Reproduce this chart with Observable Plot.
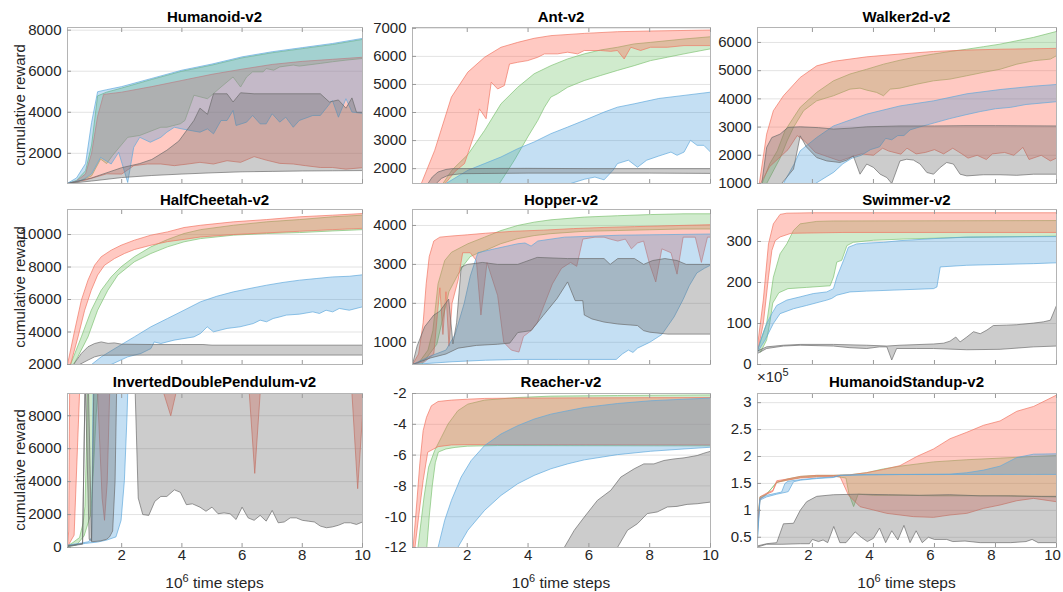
<!DOCTYPE html>
<html><head><meta charset="utf-8">
<script src="https://cdn.jsdelivr.net/npm/d3@7"></script>
<script src="https://cdn.jsdelivr.net/npm/@observablehq/plot@0.6"></script>
<style>
body{margin:0;background:#fff;}
#root{position:relative;width:1063px;height:592px;font-family:"Liberation Sans",Arial,sans-serif;color:#262626;overflow:hidden;background:#fff}
.title{position:absolute;font-weight:bold;font-size:15px;color:#000;white-space:nowrap;transform:translate(-50%,-50%)}
.ylab{position:absolute;font-size:15px;white-space:nowrap;transform:translate(-50%,-50%) rotate(-90deg)}
.xlab{position:absolute;font-size:15.5px;white-space:nowrap;transform:translate(-50%,-50%)}
.xlab sup,.mult sup{font-size:11px;vertical-align:6px;line-height:0}
.mult{position:absolute;font-size:15px;white-space:nowrap;transform:translate(0,-50%)}
</style></head>
<body><div id="root"></div>
<script>
// ---------- shared ticks ----------
const xTicks = [2, 4, 6, 8, 10];
const titles = ["Humanoid-v2","Ant-v2","Walker2d-v2","HalfCheetah-v2","Hopper-v2","Swimmer-v2","InvertedDoublePendulum-v2","Reacher-v2","HumanoidStandup-v2"];

// ---------- Humanoid ----------
const hum_blue_hi = [[0.2,540],[0.5,800],[0.8,1500],[1.0,3500],[1.2,5000],[1.5,5100],[2.0,5250],[3,5650],[4,6050],[5,6350],[6,6700],[7,6950],[8,7150],[9,7350],[10,7600]];
const hum_blue_lo = [[0.2,530],[0.7,700],[1.0,1000],[1.3,1800],[1.65,1480],[1.9,2050],[2.2,580],[2.4,2290],[2.6,2780],[2.95,2540],[3.3,2780],[3.5,3030],[3.75,3270],[4.0,3190],[4.6,3030],[4.85,3190],[5.05,2950],[5.3,3600],[5.5,3600],[5.7,4090],[5.8,3355],[6.15,3520],[6.35,3845],[6.6,3437],[6.8,3437],[7.0,3927],[7.25,3520],[7.45,3760],[7.7,3270],[7.9,3600],[8.35,3845],[8.6,3845],[9.0,4580],[9.2,3760],[9.45,4660],[9.65,4010],[10,3950]];
const hum_green_hi = [[0.2,530],[0.5,680],[0.8,1150],[1.0,2400],[1.2,4800],[1.5,4980],[2,5180],[3,5600],[4,6000],[5,6300],[6,6650],[7,6900],[8,7100],[9,7300],[10,7550]];
const hum_green_lo = [[0.2,520],[0.6,650],[1.0,900],[1.3,1720],[1.5,1500],[1.7,1900],[2.2,2780],[2.6,2870],[3.3,3270],[3.5,3270],[3.95,3440],[4.1,3600],[4.4,4830],[4.85,4660],[5.3,5230],[5.7,5720],[5.95,5230],[6.15,5720],[6.35,5970],[6.7,5970],[6.8,6130],[7.05,6050],[7.25,6210],[7.7,6300],[7.9,6250],[8.6,6380],[9.0,6460],[9.45,6540],[10,6620]];
const hum_red_hi = [[0.2,530],[0.5,650],[0.8,1000],[1.0,2000],[1.2,3800],[1.4,4870],[2,4980],[3,5250],[4,5550],[5,5850],[6,6100],[7,6330],[8,6480],[9,6580],[10,6680]];
const hum_red_lo = [[0.2,530],[0.8,700],[1.5,1000],[2.0,990],[2.4,1400],[2.85,1480],[3.3,1480],[3.75,1400],[4.2,1480],[4.6,1560],[5.05,1480],[5.5,1640],[5.95,1560],[6.4,1840],[6.8,1670],[7.25,1510],[7.7,1480],[8.1,1400],[8.6,1310],[9.0,1310],[9.45,1230],[10,1300]];
const hum_gray_hi = [[0.2,530],[1.0,800],[2.0,1300],[2.6,1500],[3.0,1700],[3.5,2150],[3.9,2600],[4.4,3600],[4.6,4200],[4.85,3900],[5.05,4900],[5.5,4900],[5.7,4500],[5.95,4950],[6.4,4900],[8.6,4900],[8.9,4500],[9.2,4600],[9.45,4200],[9.65,4700],[9.8,4000],[10,4000]];
const hum_gray_lo = [[0.2,530],[1,650],[2,820],[3,920],[4,990],[5,1050],[6,1100],[7,1120],[8,1140],[9,1150],[10,1160]];

// ---------- Ant ----------
const ant_blue_hi = [[1.0,1300],[1.3,1470],[2.02,1940],[2.57,2180],[3.11,2415],[3.66,2710],[4.2,2950],[4.75,3245],[5.3,3480],[5.85,3720],[6.5,4015],[6.94,4190],[7.49,4310],[8.3,4500],[9.13,4610],[10,4725]];
const ant_blue_lo = [[1.3,500],[5.4,1470],[5.85,1620],[6.2,1700],[6.5,1600],[6.8,1950],[6.94,2180],[7.3,2300],[7.6,2050],[7.9,2300],[8.3,2450],[8.7,2590],[8.9,2475],[9.13,2590],[9.34,3010],[9.56,2830],[9.78,2830],[10,2590]];
const ant_green_hi = [[0.9,1000],[1.2,1470],[1.5,1950],[2.02,2500],[2.57,3360],[3.11,4310],[3.66,4900],[4.2,5380],[4.75,5670],[5.3,5910],[5.85,6090],[6.39,6230],[6.94,6325],[7.49,6445],[8.03,6500],[9.13,6620],[10,6700]];
const ant_green_lo = [[1.5,500],[3.06,1470],[3.55,2300],[3.99,3130],[4.32,3720],[4.54,4190],[4.75,4550],[4.97,4670],[5.3,4900],[5.85,5140],[6.39,5320],[6.94,5500],[7.49,5670],[8.03,5850],[8.58,5970],[9.13,6090],[10,6270]];
const ant_red_hi = [[0.35,1000],[0.49,1470],[0.93,2650],[1.48,4550],[2.02,5440],[2.57,5970],[3.11,6325],[3.66,6500],[4.2,6645],[4.75,6740],[5.85,6820],[6.94,6880],[8.03,6905],[10,6940]];
const ant_red_lo = [[0.8,1000],[1.3,1500],[1.6,1900],[1.91,2180],[2.24,3245],[2.4,4130],[2.62,3780],[2.79,5080],[3.0,4840],[3.22,4960],[3.39,5730],[3.66,5790],[3.99,5850],[4.32,5970],[4.54,6090],[4.97,6090],[5.3,6150],[5.63,6090],[5.85,6210],[6.39,6210],[6.72,6180],[6.94,6210],[7.16,5910],[7.38,6325],[7.7,6210],[8.03,6325],[8.58,6325],[9.13,6385],[10,6385]];
const ant_gray_hi = [[0.6,1300],[0.71,1470],[0.85,1700],[1.04,1880],[1.3,1970],[1.5,2000],[4,2010],[6,2000],[8,2000],[10,2000]];
const ant_gray_lo = [[0.85,1300],[0.98,1470],[1.15,1650],[1.37,1760],[1.8,1820],[4,1840],[6,1840],[8,1840],[10,1830]];

// ---------- Walker2d ----------
const walk_blue_hi = [[1.05,1000],[1.4,1690],[1.6,2160],[2.14,2630],[2.69,3040],[3.78,3460],[4.87,3750],[5.97,3930],[7.06,4180],[8.15,4330],[9.25,4450],[10,4510]];
const walk_blue_lo = [[1.5,800],[2.1,1000],[2.7,1400],[3.0,1700],[3.3,1900],[3.6,2000],[3.9,2200],[4.2,2300],[4.4,2600],[4.6,2550],[4.8,2700],[5.0,2700],[5.2,2900],[5.5,3000],[6.0,3150],[6.5,3300],[7.0,3430],[7.5,3550],[8.0,3650],[8.5,3700],[9,3800],[10,3900]];
const walk_green_hi = [[0.35,1000],[0.6,1700],[0.85,2160],[1.1,2870],[1.6,3700],[2.14,4230],[2.69,4640],[3.23,4880],[3.78,5050],[4.33,5230],[4.87,5370],[5.42,5490],[5.97,5590],[6.51,5680],[7.06,5760],[7.61,5850],[8.15,5940],[8.7,6060],[9.25,6180],[10,6390]];
const walk_green_lo = [[0.5,1000],[0.95,1920],[1.17,2510],[1.38,2990],[1.71,3580],[2.14,3930],[2.69,4110],[3.23,4345],[3.56,4380],[3.78,4310],[4.1,4230],[4.33,4110],[4.55,4345],[4.87,4380],[5.42,4520],[5.97,4640],[6.51,4700],[7.06,4820],[7.61,4940],[8.15,5050],[8.7,5230],[9.25,5350],[9.8,5410],[10,5530]];
const walk_red_hi = [[0.2,900],[0.26,1000],[0.5,2750],[0.72,3580],[1.05,4110],[1.6,4760],[2.14,5170],[2.69,5330],[3.23,5410],[3.78,5490],[4.87,5590],[5.97,5680],[7.06,5730],[8.15,5760],[10,5790]];
const walk_red_lo = [[0.3,1000],[0.6,1600],[0.9,1900],[1.2,2200],[1.5,2700],[1.75,2500],[2.1,2100],[2.5,1950],[2.9,1800],[3.3,1950],[3.6,2050],[4.0,2000],[4.3,2250],[4.5,2150],[4.9,2040],[5.1,2250],[5.4,2050],[5.7,2100],[6.0,2200],[6.3,2050],[6.6,2250],[6.9,2050],[7.1,1900],[7.4,2000],[7.7,1850],[7.9,2050],[8.3,2100],[8.6,2000],[8.9,2280],[9.1,1850],[9.5,2000],[9.8,1800],[10,1900]];
const walk_gray_hi = [[0.34,1000],[0.5,2280],[0.67,2630],[0.94,2750],[1.2,2990],[1.6,3010],[2.2,2980],[2.69,2930],[3.23,2960],[3.78,3010],[4.87,3040],[6,3040],[7,3050],[8,3050],[10,3040]];
const walk_gray_lo = [[0.99,1000],[1.38,1510],[1.6,2690],[1.8,2300],[2.14,1920],[2.47,1800],[2.9,1745],[3.13,1830],[3.34,1980],[3.56,1330],[3.78,1690],[4.0,1570],[4.22,1330],[4.44,1210],[4.6,1000],[4.87,1800],[5.09,1860],[5.31,1830],[5.53,1690],[5.75,1390],[5.97,1330],[6.19,1570],[6.4,1745],[6.62,1690],[6.84,1330],[7.06,1270],[7.6,1310],[8.15,1310],[8.7,1290],[9.25,1330],[10,1330]];

// ---------- HalfCheetah ----------
const hc_blue_hi = [[1.0,2000],[1.32,2470],[1.87,3090],[2.42,3700],[2.97,4320],[3.52,4830],[4.07,5340],[4.62,5860],[5.16,6200],[5.71,6470],[6.26,6680],[6.81,6880],[7.36,7050],[7.91,7190],[8.46,7290],[9.01,7390],[9.56,7430],[10,7520]];
const hc_blue_lo = [[1.65,2000],[2.2,2470],[2.64,2680],[2.97,2980],[3.08,3390],[3.3,3290],[3.74,3500],[4.4,3700],[4.62,3910],[4.84,4320],[5.05,4010],[5.5,4220],[5.93,4320],[6.37,4520],[6.6,4730],[6.81,4630],[7.03,4830],[7.25,4930],[7.47,5040],[7.91,5100],[8.35,5240],[8.57,5140],[8.79,5340],[9.01,5240],[9.23,5450],[9.56,5340],[10,5550]];
const hc_green_hi = [[0.3,2000],[0.66,3700],[0.99,5340],[1.32,6570],[1.65,7390],[1.98,8010],[2.42,8630],[2.97,9240],[3.52,9690],[4.07,10060],[4.62,10300],[5.71,10570],[6.81,10780],[7.91,10920],[9.01,11090],[10,11190]];
const hc_green_lo = [[0.4,2000],[0.55,2500],[0.88,3700],[1.2,5340],[1.54,6570],[1.87,7500],[2.42,8320],[2.97,8830],[3.52,9240],[4.07,9550],[4.62,9750],[5.71,9960],[6.81,10060],[7.91,10120],[9.01,10220],[10,10300]];
const hc_red_hi = [[0.2,2000],[0.44,4110],[0.66,5960],[0.88,7190],[1.1,8110],[1.32,8630],[1.65,9035],[1.98,9340],[2.42,9650],[2.97,9960],[3.52,10160],[4.07,10430],[4.62,10570],[5.71,10780],[6.81,10920],[7.91,11090],[9.01,11190],[10,11290]];
const hc_red_lo = [[0.3,2000],[0.55,3700],[0.77,5340],[0.99,6570],[1.2,7500],[1.43,8110],[1.76,8520],[2.09,8830],[2.42,9075],[2.97,9340],[3.52,9560],[4.07,9700],[4.62,9850],[5.71,10000],[6.81,10100],[7.91,10200],[9.01,10300],[10,10380]];
const hc_gray_hi = [[0.4,2000],[0.66,2680],[0.88,3090],[1.1,3290],[1.32,3390],[1.55,3300],[1.76,3330],[2.0,3250],[3,3230],[4,3230],[4.7,3230],[5,3190],[10,3190]];
const hc_gray_lo = [[0.6,2000],[0.88,2270],[1.1,2470],[1.32,2570],[3,2580],[6,2580],[10,2580]];

// ---------- Hopper ----------
const hop_blue_hi = [[0.2,430],[0.8,650],[1.3,800],[1.6,1200],[1.9,2000],[2.1,2700],[2.35,3300],[2.9,3400],[3.66,3530],[3.9,3550],[4.1,3470],[4.32,3600],[5.2,3700],[6,3720],[7,3750],[8,3760],[9,3770],[10,3780]];
const hop_blue_lo = [[0.2,430],[1.5,500],[2.6,540],[3.7,560],[5,560],[6,560],[6.9,560],[7.1,700],[7.3,800],[7.45,740],[7.6,850],[8.0,1000],[8.4,1200],[8.8,1650],[9.1,2100],[9.3,2450],[9.55,2780],[9.8,2900],[10,2980]];
const hop_green_hi = [[0.2,430],[0.38,450],[0.71,800],[0.87,1300],[0.98,2070],[1.04,2500],[1.26,3100],[1.48,3310],[2.02,3530],[2.57,3700],[3.11,3870],[3.66,4000],[4.2,4085],[4.75,4145],[5.85,4215],[6.94,4250],[8.03,4280],[9.13,4300],[10,4300]];
const hop_green_lo = [[0.5,430],[1.0,950],[1.4,2300],[1.7,2750],[1.9,3000],[2.1,3200],[2.35,3290],[2.6,3360],[3.1,3530],[3.65,3660],[4.2,3740],[4.75,3790],[5.85,3850],[6.95,3870],[8.0,3890],[9.1,3910],[10,3910]];
const hop_red_hi = [[0.2,430],[0.4,700],[0.55,1500],[0.65,2500],[0.75,3200],[0.9,3600],[1.1,3700],[1.5,3730],[2,3760],[2.6,3800],[3.5,3850],[4.5,3880],[5.5,3920],[6.5,3950],[7.5,3970],[8.5,3990],[10,4020]];
const hop_red_lo = [[0.2,430],[0.6,500],[0.9,700],[1.1,2400],[1.2,1200],[1.3,2300],[1.4,900],[1.5,2000],[1.7,2600],[1.85,3300],[2.1,3300],[2.3,3100],[2.45,1700],[2.65,3050],[3.0,2200],[3.2,1000],[3.45,800],[3.7,750],[3.85,1150],[4.1,1300],[4.3,1500],[4.55,2000],[4.8,2500],[5.1,2900],[5.4,3050],[5.6,2950],[5.8,3650],[6.2,3700],[6.5,3700],[6.7,3650],[6.95,3600],[7.2,3650],[7.4,3400],[7.6,3550],[7.8,3600],[8.0,3000],[8.2,2550],[8.4,3400],[8.7,3300],[8.9,2750],[9.1,3700],[9.5,3700],[9.7,3050],[9.9,3700],[10,3700]];
const hop_gray_hi = [[0.2,430],[0.35,900],[0.6,1400],[0.9,1700],[1.1,1800],[1.39,2110],[1.53,960],[1.65,1500],[1.8,2930],[2.0,3000],[2.5,3050],[3.0,3000],[3.66,3000],[4.3,3180],[5.3,3150],[6.5,3150],[6.7,3000],[6.95,3150],[7.5,3150],[7.8,3000],[8.1,3100],[8.5,3150],[8.9,3100],[9.2,3000],[9.8,3000],[10,3000]];
const hop_gray_lo = [[0.2,430],[0.8,600],[1.3,700],[1.7,850],[2.3,920],[3.0,950],[3.4,980],[3.66,1250],[4.1,1300],[4.5,1690],[4.95,2120],[5.3,2550],[5.55,2070],[5.8,2070],[5.85,1700],[6.1,1600],[6.5,1520],[6.95,1470],[7.6,1430],[7.8,1300],[8.0,1260],[8.6,1210],[10,1210]];

// ---------- Swimmer ----------
const sw_blue_hi = [[0.2,35],[0.35,70],[0.5,100],[0.67,124],[0.83,144],[1.16,157],[1.6,165],[2.03,173],[2.47,177],[2.69,185],[2.8,213],[3.02,254],[3.18,286],[3.45,294],[3.78,296],[4.33,298],[4.87,302],[5.97,307],[7.06,311],[10,312]];
const sw_blue_lo = [[0.2,30],[0.45,60],[0.72,100],[0.94,124],[1.38,136],[1.81,144],[2.47,157],[2.63,161],[2.8,169],[3.23,177],[3.78,179],[4.87,182],[5.97,185],[6.08,189],[6.19,238],[7.06,242],[8.15,244],[9.25,246],[10,248]];
const sw_green_hi = [[0.2,35],[0.5,100],[0.72,213],[0.94,270],[1.16,294],[1.38,327],[1.6,343],[2.14,349],[2.69,350],[10,351]];
const sw_green_lo = [[0.3,30],[0.5,60],[0.6,100],[0.7,150],[0.9,175],[1.2,185],[1.8,188],[2.58,192],[2.69,213],[2.8,250],[2.96,254],[3.13,290],[3.34,298],[4,303],[5,306],[6,308],[7,310],[8,311],[10,313]];
const sw_red_hi = [[0.2,45],[0.39,157],[0.56,294],[0.72,343],[0.94,366],[1.16,369],[2,370],[10,370]];
const sw_red_lo = [[0.2,30],[0.39,100],[0.56,213],[0.67,278],[0.78,302],[0.94,311],[1.3,320],[3,322],[10,322]];
const sw_gray_hi = [[0.2,33],[0.5,43],[1.05,47],[1.6,49],[2.69,49],[3.78,47],[4.44,45],[4.87,47],[5.97,50],[6.3,52],[6.51,57],[6.7,67],[6.84,55],[7.06,67],[7.28,80],[7.5,75],[7.72,84],[7.93,95],[8.37,96],[8.7,97],[9.25,101],[9.57,104],[9.8,108],[10,144]];
const sw_gray_lo = [[0.2,27],[0.5,39],[1.05,45],[1.6,47],[2.69,45],[3.23,41],[3.78,39],[4.2,43],[4.44,43],[4.6,11],[4.76,39],[5.42,39],[5.97,39],[7.06,36],[8.15,37],[9.25,43],[10,45]];

// ---------- InvertedDoublePendulum ----------
const idp_blue_hi = [[0.2,150],[0.6,250],[0.9,350],[1.0,600],[1.05,9350],[10,9350]];
const idp_blue_lo = [[0.2,80],[0.8,250],[1.2,330],[1.5,450],[1.81,645],[1.98,1650],[2.09,4070],[2.18,8100],[2.2,9350],[10,9350]];
const idp_green_hi = [[0.2,100],[0.38,300],[0.6,600],[0.72,1500],[0.78,2500],[0.83,6000],[0.86,9350],[10,9350]];
const idp_green_lo = [[0.2,50],[0.5,150],[0.75,700],[0.97,2000],[1.04,4000],[1.15,8000],[1.21,9350],[10,9350]];
const idp_red_hi = [[0.2,100],[0.24,1000],[0.27,9350],[10,9350]];
const idp_red_lo = [[0.2,50],[0.42,750],[0.6,9350],[1.2,9350],[1.35,3000],[1.43,1650],[1.52,4000],[1.6,9350],[3.4,9350],[3.63,8000],[3.8,9350],[6.24,9350],[6.42,4500],[6.6,9350],[9.65,9350],[9.84,3570],[10,8000]];
const idp_gray_hi = [[0.2,100],[0.7,250],[0.78,9350],[0.8,9350],[0.92,500],[1.0,400],[1.07,9350],[10,9350]];
const idp_gray_lo = [[0.2,60],[0.7,200],[0.78,9350],[0.9,9350],[1.0,350],[1.3,400],[1.5,500],[1.6,650],[1.7,1000],[1.78,4000],[1.83,9350],[2.45,9350],[2.55,3000],[2.7,2000],[2.9,1950],[3.1,2800],[3.3,3100],[3.5,3100],[3.75,3500],[3.95,3350],[4.15,2600],[4.35,2650],[4.6,2450],[4.8,2200],[5.0,2450],[5.2,2050],[5.4,2100],[5.6,2050],[5.8,1700],[6.0,2450],[6.2,1800],[6.4,1650],[6.6,1950],[6.8,1600],[7.0,2250],[7.2,1500],[7.4,1550],[7.6,1800],[7.8,1800],[8.0,1650],[8.2,1600],[8.4,1550],[8.6,1300],[8.8,1200],[9.0,1250],[9.2,1350],[9.4,1500],[9.6,1500],[9.8,1400],[10,1550]];

// ---------- Reacher ----------
const rea_blue_hi = [[1.0,-12.5],[1.04,-12],[1.26,-10.23],[1.48,-8.94],[1.8,-7.43],[2.13,-6.35],[2.57,-5.38],[3.11,-4.63],[3.66,-4.09],[4.2,-3.66],[4.75,-3.34],[5.3,-3.12],[5.85,-2.91],[6.94,-2.65],[8.03,-2.47],[9.13,-2.37],[10,-2.3]];
const rea_blue_lo = [[1.6,-12.5],[1.69,-12],[2.02,-10.88],[2.57,-9.59],[3.11,-8.62],[3.66,-7.86],[4.2,-7.32],[4.75,-6.89],[5.3,-6.57],[5.85,-6.31],[6.94,-5.97],[8.03,-5.75],[9.13,-5.6],[10,-5.49]];
const rea_green_hi = [[0.35,-12.5],[0.44,-11],[0.58,-8.72],[0.73,-6.78],[0.93,-5.7],[1.15,-4.84],[1.37,-3.98],[1.69,-3.12],[2.02,-2.69],[2.57,-2.43],[3.66,-2.26],[4.75,-2.17],[6.94,-2.13],[10,-2.09]];
const rea_green_lo = [[0.65,-12.5],[0.75,-10],[0.85,-8],[0.95,-6.5],[1.05,-5.8],[1.3,-5.6],[1.6,-5.5],[2.0,-5.42],[3,-5.38],[10,-5.4]];
const rea_red_hi = [[0.2,-12.5],[0.33,-9.37],[0.44,-6.57],[0.55,-4.41],[0.66,-3.55],[0.82,-2.8],[1.04,-2.52],[1.48,-2.43],[2.02,-2.37],[2.57,-2.32],[3.66,-2.3],[10,-2.26]];
const rea_red_lo = [[0.25,-12.5],[0.44,-9.37],[0.55,-7.65],[0.7,-5.81],[0.9,-5.6],[1.04,-5.45],[1.48,-5.34],[2.02,-5.32],[5,-5.32],[10,-5.34]];
const rea_gray_hi = [[5.0,-12.5],[5.19,-12],[5.52,-10.88],[5.85,-10.02],[6.28,-8.94],[6.72,-8.29],[7.05,-7.43],[7.49,-6.89],[7.81,-6.57],[8.14,-6.57],[8.47,-6.35],[8.8,-6.25],[9.13,-6.18],[9.56,-6.03],[9.78,-5.88],[10,-5.75]];
const rea_gray_lo = [[6.8,-12.5],[6.94,-12],[7.27,-10.88],[7.6,-10.45],[7.92,-9.8],[8.25,-9.69],[8.58,-9.37],[8.9,-9.33],[9.23,-9.2],[9.56,-9.16],[10,-9.05]];

// ---------- HumanoidStandup (x 1e5) ----------
const hs_blue_hi = [[0.2,0.5],[0.28,1.22],[0.5,1.28],[0.83,1.32],[0.99,1.34],[1.1,1.5],[1.2,1.54],[1.6,1.57],[2.14,1.6],[2.69,1.62],[2.91,1.65],[3.78,1.667],[5,1.667],[6.51,1.673],[7.06,1.698],[7.61,1.747],[8.15,1.821],[8.7,1.981],[9.25,2.043],[10,2.05]];
const hs_blue_lo = [[0.2,0.45],[0.28,1.19],[0.5,1.25],[0.83,1.3],[1.16,1.34],[1.21,1.35],[1.38,1.53],[1.6,1.56],[2.14,1.59],[2.69,1.61],[2.91,1.65],[5,1.665],[10,1.667]];
const hs_green_hi = [[0.2,0.7],[0.28,1.25],[0.5,1.3],[0.83,1.52],[1.16,1.58],[1.6,1.63],[2.14,1.65],[2.69,1.65],[3.23,1.66],[3.78,1.7],[4.33,1.77],[4.87,1.82],[5.97,1.9],[7.06,1.94],[8.15,1.97],[9.25,2.0],[10,2.02]];
const hs_green_lo = [[0.2,0.65],[0.28,1.22],[0.5,1.3],[0.83,1.52],[1.16,1.56],[1.6,1.61],[2.14,1.63],[2.69,1.64],[3.1,1.6],[3.2,1.3],[3.35,1.07],[3.5,1.3],[4,1.28],[5,1.28],[6,1.27],[7,1.27],[8,1.27],[9,1.26],[10,1.25]];
const hs_red_hi = [[0.2,0.7],[0.28,1.25],[0.5,1.32],[0.7,1.37],[0.83,1.55],[1.16,1.58],[1.6,1.63],[2.14,1.65],[2.69,1.65],[3.23,1.66],[3.78,1.7],[4.33,1.76],[4.87,1.83],[5.42,2.0],[5.97,2.14],[6.51,2.33],[7.06,2.45],[7.61,2.58],[8.15,2.66],[8.7,2.84],[9.25,2.93],[10,3.14]];
const hs_red_lo = [[0.2,0.6],[0.28,1.2],[0.5,1.3],[0.7,1.35],[0.83,1.52],[1.16,1.56],[1.6,1.6],[2.14,1.62],[2.69,1.63],[2.91,1.62],[3.18,1.284],[3.56,1.068],[4.0,1.006],[4.44,0.944],[4.87,0.914],[5.31,0.883],[5.97,0.87],[6.51,0.914],[7.06,0.944],[7.61,1.037],[8.15,1.099],[8.7,1.179],[9.25,1.222],[10,1.16]];
const hs_gray_hi = [[0.2,0.34],[0.5,0.38],[0.83,0.4],[1.05,0.75],[1.38,0.76],[1.6,1.0],[1.81,1.16],[2.14,1.26],[2.69,1.29],[3.5,1.3],[4.5,1.29],[5.5,1.28],[6.5,1.29],[7.5,1.27],[8.5,1.27],[9.5,1.26],[10,1.26]];
const hs_gray_lo = [[0.2,0.32],[0.5,0.37],[1.0,0.37],[1.6,0.38],[1.9,0.38],[2.0,0.46],[2.2,0.42],[2.35,0.45],[2.5,0.4],[2.7,0.7],[2.9,0.4],[3.1,0.4],[3.4,0.6],[3.6,0.5],[3.8,0.42],[4.0,0.48],[4.2,0.67],[4.4,0.4],[4.6,0.62],[4.8,0.45],[5.0,0.72],[5.2,0.4],[5.4,0.62],[5.6,0.4],[5.8,0.5],[6.0,0.46],[6.4,0.46],[6.6,0.42],[7,0.43],[7.5,0.4],[8,0.4],[8.5,0.4],[9,0.42],[9.2,0.46],[9.4,0.4],[10,0.4]];

// ---------- y domains and ticks ----------
const yDomains = [[530,8130],[1470,7030],[1000,6530],[2000,11540],[430,4410],[0,378],[0,9350],[-12,-2],[0.31,3.17]];
const yTicks = [[2000,4000,6000,8000],[2000,3000,4000,5000,6000,7000],[1000,2000,3000,4000,5000,6000],[2000,4000,6000,8000,10000],[1000,2000,3000,4000],[0,100,200,300],[0,2000,4000,6000,8000],[-12,-10,-8,-6,-4,-2],[0.5,1,1.5,2,2.5,3]];

// per panel, in draw order: [green hi, green lo, red hi, red lo, blue hi, blue lo, gray hi, gray lo]
const seriesByPanel = [
  [hum_green_hi,hum_green_lo,hum_red_hi,hum_red_lo,hum_blue_hi,hum_blue_lo,hum_gray_hi,hum_gray_lo],
  [ant_green_hi,ant_green_lo,ant_red_hi,ant_red_lo,ant_blue_hi,ant_blue_lo,ant_gray_hi,ant_gray_lo],
  [walk_green_hi,walk_green_lo,walk_red_hi,walk_red_lo,walk_blue_hi,walk_blue_lo,walk_gray_hi,walk_gray_lo],
  [hc_green_hi,hc_green_lo,hc_red_hi,hc_red_lo,hc_blue_hi,hc_blue_lo,hc_gray_hi,hc_gray_lo],
  [hop_green_hi,hop_green_lo,hop_red_hi,hop_red_lo,hop_blue_hi,hop_blue_lo,hop_gray_hi,hop_gray_lo],
  [sw_green_hi,sw_green_lo,sw_red_hi,sw_red_lo,sw_blue_hi,sw_blue_lo,sw_gray_hi,sw_gray_lo],
  [idp_green_hi,idp_green_lo,idp_red_hi,idp_red_lo,idp_blue_hi,idp_blue_lo,idp_gray_hi,idp_gray_lo],
  [rea_green_hi,rea_green_lo,rea_red_hi,rea_red_lo,rea_blue_hi,rea_blue_lo,rea_gray_hi,rea_gray_lo],
  [hs_green_hi,hs_green_lo,hs_red_hi,hs_red_lo,hs_blue_hi,hs_blue_lo,hs_gray_hi,hs_gray_lo]
];

const COLORS = [
  {fill:"#64be5a", op:0.3,  line:"#7cc070"},
  {fill:"#ff6450", op:0.35, line:"#f07460"},
  {fill:"#3c96d7", op:0.3,  line:"#5ea8dc"},
  {fill:"#6e6e6e", op:0.35, line:"#6a6a6a"}
];

// ---------- layout ----------
const colLeft = [67, 412, 757], colW = [295, 298, 299];
const rowTop = [27, 209, 393], rowH = [156, 155, 154];
const root = document.getElementById("root");

function addDiv(cls, html, x, y) {
  const d = document.createElement("div");
  d.className = cls; d.innerHTML = html;
  d.style.left = x + "px"; d.style.top = y + "px";
  root.appendChild(d);
}

titles.forEach((t, i) => {
  const r = Math.floor(i / 3), c = i % 3;
  const W = colW[c], H = rowH[r];
  const ml = 52, mr = 8, mt = 4, mb = r === 2 ? 24 : 4;
  const marks = [Plot.gridY({ticks: yTicks[i], stroke: "#e3e3e3", strokeOpacity: 1})];
  const S = seriesByPanel[i];
  for (let k = 0; k < 4; k++) {
    const hi = S[2*k], lo = S[2*k+1], col = COLORS[k];
    const poly = hi.concat(lo.slice().reverse());
    marks.push(Plot.line(poly, {x: d => d[0], y: d => d[1], fill: col.fill, fillOpacity: col.op, stroke: "none", clip: true}));
    marks.push(Plot.line(hi, {x: d => d[0], y: d => d[1], stroke: col.line, strokeWidth: 0.8, strokeOpacity: 0.85, clip: true}));
    marks.push(Plot.line(lo, {x: d => d[0], y: d => d[1], stroke: col.line, strokeWidth: 0.8, strokeOpacity: 0.85, clip: true}));
  }
  marks.push(Plot.frame({stroke: "#b4b4b4"}));
  marks.push(Plot.axisY({ticks: yTicks[i], tickSize: 0, tickPadding: 6, tickFormat: d => String(d), label: null}));
  marks.push(Plot.axisY({ticks: yTicks[i], tickSize: 4, dx: 4, tickFormat: () => "", label: null, stroke: "#999"}));
  marks.push(Plot.axisX({anchor: "top", ticks: xTicks, tickSize: 4, dy: 4, tickFormat: () => "", label: null, stroke: "#999"}));
  marks.push(Plot.axisX({anchor: "bottom", ticks: xTicks, tickSize: 4, dy: -4, tickFormat: () => "", label: null, stroke: "#999"}));
  if (r === 2) marks.push(Plot.axisX({anchor: "bottom", ticks: xTicks, tickSize: 0, tickPadding: 2, dx: c === 2 ? -4 : 0, tickFormat: d => String(d), label: null}));
  const svg = Plot.plot({
    width: W + ml + mr, height: H + mt + mb,
    marginLeft: ml, marginRight: mr, marginTop: mt, marginBottom: mb,
    x: {domain: [0.2, 10]}, y: {domain: yDomains[i]},
    style: {fontFamily: "'Liberation Sans', Arial, sans-serif", fontSize: "15px", color: "#262626", background: "transparent", overflow: "visible"},
    marks
  });
  svg.style.position = "absolute";
  svg.style.left = (colLeft[c] - ml) + "px";
  svg.style.top = (rowTop[r] - mt) + "px";
  root.appendChild(svg);
  addDiv("title", t, colLeft[c] + W / 2, [16, 199, 381][r]);
  if (c === 0) addDiv("ylab", "cumulative reward", 19, rowTop[r] + H / 2);
  if (r === 2) addDiv("xlab", "10<sup>6</sup> time steps", colLeft[c] + W / 2, 583);
});
addDiv("mult", "×10<sup>5</sup>", 757, 376);
</script></body></html>
